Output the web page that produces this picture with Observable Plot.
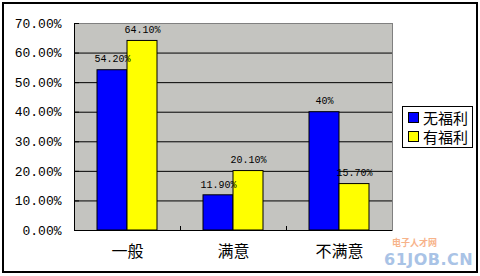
<!DOCTYPE html>
<html><head><meta charset="utf-8">
<script src="https://cdn.jsdelivr.net/npm/d3@7"></script>
<script src="https://cdn.jsdelivr.net/npm/@observablehq/plot@0.6"></script>
<style>
body{margin:0;background:#fff;}
#wrap{position:relative;width:480px;height:276px;overflow:hidden;background:#fff;}
#wrap svg{position:absolute;left:0;top:0;}
#frame{position:absolute;left:2px;top:2px;width:476px;height:271px;border:2px solid #000;box-sizing:border-box;pointer-events:none;}
#legend{position:absolute;left:402px;top:106px;width:71px;height:42px;border:1px solid #000;background:#fff;box-sizing:border-box;font-family:"Noto Sans CJK SC",sans-serif;font-size:15px;line-height:19px;padding-top:1px;}
#legend .row{display:flex;align-items:center;height:19px;white-space:nowrap;}
#legend .sw{width:9px;height:9px;border:1px solid #000;margin-left:5px;margin-right:4px;flex:none;}
#wm1{position:absolute;left:392px;top:237px;font-family:"Noto Sans CJK SC",sans-serif;font-size:9px;line-height:11px;color:#f7b38a;font-weight:bold;}
#wm2{position:absolute;left:384px;top:251px;font-family:"DejaVu Sans",sans-serif;font-size:16px;line-height:18px;color:#a9c3e6;font-weight:bold;letter-spacing:0.5px;}
</style></head><body><div id="wrap"></div>
<script>
const categories = ["一般", "满意", "不满意"];
const seriesNames = ["无福利", "有福利"];
const noWelfare = [0.542, 0.119, 0.40];
const withWelfare = [0.641, 0.201, 0.157];
const labelsNo = ["54.20%", "11.90%", "40%"];
const labelsWith = ["64.10%", "20.10%", "15.70%"];
const yTicks = [0, 0.1, 0.2, 0.3, 0.4, 0.5, 0.6, 0.7];
const yTickLabels = ["0.00%", "10.00%", "20.00%", "30.00%", "40.00%", "50.00%", "60.00%", "70.00%"];
const colors = ["#0000ff", "#ffff00"];

const rowsNo = categories.map((c, i) => ({cat: c, series: seriesNames[0], value: noWelfare[i], label: labelsNo[i]}));
const rowsWith = categories.map((c, i) => ({cat: c, series: seriesNames[1], value: withWelfare[i], label: labelsWith[i]}));

const mono = "'Liberation Mono', 'DejaVu Sans Mono', monospace";
const cjk = "'Noto Sans CJK SC', sans-serif";

const chart = Plot.plot({
  width: 480, height: 276,
  marginLeft: 74, marginRight: 88, marginTop: 23, marginBottom: 46,
  style: {background: "transparent", color: "#000"},
  x: {domain: categories, padding: 0, label: null},
  y: {domain: [0, 0.7], label: null},
  color: {domain: seriesNames, range: colors},
  marks: [
    Plot.frame({fill: "#c4c4c0", stroke: "#808080"}),
    Plot.ruleY(yTicks.slice(1, -1), {stroke: "#000"}),
    Plot.ruleY(yTicks, {stroke: "#000", insetRight: 313}),
    Plot.ruleX(categories.slice(1), {dx: -53, insetTop: 203, stroke: "#000"}),
    Plot.barY(rowsNo, {x: "cat", y: "value", fill: "series", stroke: "#000", strokeWidth: 1, insetLeft: 23, insetRight: 53}),
    Plot.barY(rowsWith, {x: "cat", y: "value", fill: "series", stroke: "#000", strokeWidth: 1, insetLeft: 53, insetRight: 23}),
    Plot.ruleY([0], {stroke: "#000"}),
    Plot.ruleX([categories[0]], {dx: -53, stroke: "#000"}),
    Plot.text(rowsNo, {x: "cat", y: "value", text: "label", dx: -15, dy: -11, fontSize: 10, fontFamily: mono, fill: "#000"}),
    Plot.text(rowsWith, {x: "cat", y: "value", text: "label", dx: 15, dy: -11, fontSize: 10, fontFamily: mono, fill: "#000"}),
    Plot.axisY(yTicks, {tickSize: 0, tickPadding: 13, tickFormat: (d, i) => yTickLabels[i], fontSize: 13, fontFamily: mono, fill: "#000", label: null}),
    Plot.axisX({tickSize: 0, tickPadding: 15, fontSize: 16, fontFamily: cjk, fill: "#000", label: null})
  ]
});

const wrap = document.getElementById("wrap");
wrap.appendChild(chart);

const legend = document.createElement("div");
legend.id = "legend";
seriesNames.forEach((s, i) => {
  const row = document.createElement("div");
  row.className = "row";
  const sw = document.createElement("div");
  sw.className = "sw";
  sw.style.background = colors[i];
  const t = document.createElement("span");
  t.textContent = s;
  row.appendChild(sw); row.appendChild(t);
  legend.appendChild(row);
});
wrap.appendChild(legend);

const wm1 = document.createElement("div"); wm1.id = "wm1"; wm1.textContent = "电子人才网"; wrap.appendChild(wm1);
const wm2 = document.createElement("div"); wm2.id = "wm2"; wm2.textContent = "61JOB.CN"; wrap.appendChild(wm2);

const frame = document.createElement("div"); frame.id = "frame"; wrap.appendChild(frame);
</script>
</body></html>
